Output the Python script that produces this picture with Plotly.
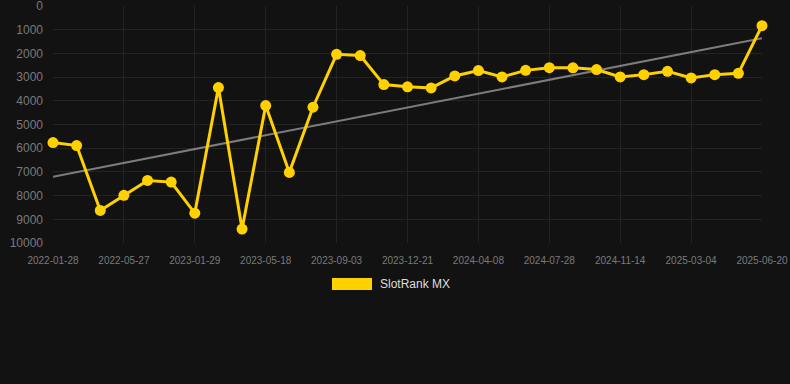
import plotly.graph_objects as go

dates = [
    "2022-01-28", "2022-03-08", "2022-04-17", "2022-05-27", "2022-08-18", "2022-11-08",
    "2023-01-29", "2023-03-05", "2023-04-12", "2023-05-18", "2023-06-23", "2023-07-29",
    "2023-09-03", "2023-10-09", "2023-11-15", "2023-12-21", "2024-01-26", "2024-03-03",
    "2024-04-08", "2024-05-15", "2024-06-21", "2024-07-28", "2024-09-02", "2024-10-08",
    "2024-11-14", "2024-12-21", "2025-01-26", "2025-03-04", "2025-04-09", "2025-05-15",
    "2025-06-20",
]
rank = [
    5760, 5890, 8625, 7990, 7360, 7430, 8740, 3440, 9410, 4200, 7020, 4270,
    2040, 2090, 3315, 3410, 3455, 2950, 2725, 2990, 2715, 2600, 2610, 2680,
    2990, 2895, 2755, 3035, 2895, 2840, 830,
]
trend_dates = [dates[0], dates[-1]]
trend_values = [7205, 1360]
tick_labels = dates[::3]
y_ticks = [0, 1000, 2000, 3000, 4000, 5000, 6000, 7000, 8000, 9000, 10000]
y_tick_text = [str(v) for v in y_ticks]

fig = go.Figure()
fig.add_trace(go.Scatter(
    x=trend_dates, y=trend_values, mode="lines",
    line=dict(color="rgba(160,160,160,0.75)", width=2),
    showlegend=False, hoverinfo="skip",
))
fig.add_trace(go.Scatter(
    x=dates, y=rank, mode="lines+markers", name="SlotRank MX",
    line=dict(color="#FFD100", width=3),
    marker=dict(color="#FFD100", size=11),
    cliponaxis=False, showlegend=False,
))

fig.update_layout(
    width=790, height=384,
    margin=dict(l=53, r=28, t=6, b=141, autoexpand=False),
    paper_bgcolor="#121212", plot_bgcolor="#121212",
    font=dict(family="Liberation Sans, Arial, sans-serif", color="#777777"),
    xaxis=dict(
        type="category", categoryorder="array", categoryarray=dates,
        range=[0, len(dates) - 1],
        tickmode="array", tickvals=tick_labels, ticktext=tick_labels,
        tickfont=dict(size=10, color="#7a7a7a"),
        showgrid=True, gridcolor="#232323", gridwidth=1,
        zeroline=False, showline=False, ticks="", ticklabelstandoff=10,
        ticklabeloverflow="allow", automargin=False,
    ),
    yaxis=dict(
        range=[10000, -1], tickmode="array", tickvals=y_ticks, ticktext=y_tick_text,
        tickfont=dict(size=12, color="#7a7a7a"),
        showgrid=True, gridcolor="#232323", gridwidth=1,
        zeroline=False, showline=False, ticks="", ticklabelstandoff=9,
        ticklabeloverflow="allow", automargin=False,
    ),
    shapes=[dict(
        type="rect", xref="paper", yref="paper",
        x0=(332 - 53) / 709, x1=(372 - 53) / 709,
        y0=-(290 - 243) / 237, y1=-(278 - 243) / 237,
        fillcolor="#FFD100", line=dict(width=0),
    )],
    annotations=[dict(
        text="SlotRank MX", xref="paper", yref="paper",
        x=(378 - 53) / 709, y=-(284 - 243) / 237,
        xanchor="left", yanchor="middle", showarrow=False,
        font=dict(size=12, color="#dddddd"),
    )],
)

fig.write_html(
    "out.html",
    config={"displayModeBar": False},
    post_script="document.body.style.margin='0';document.body.style.background='#121212';",
)
